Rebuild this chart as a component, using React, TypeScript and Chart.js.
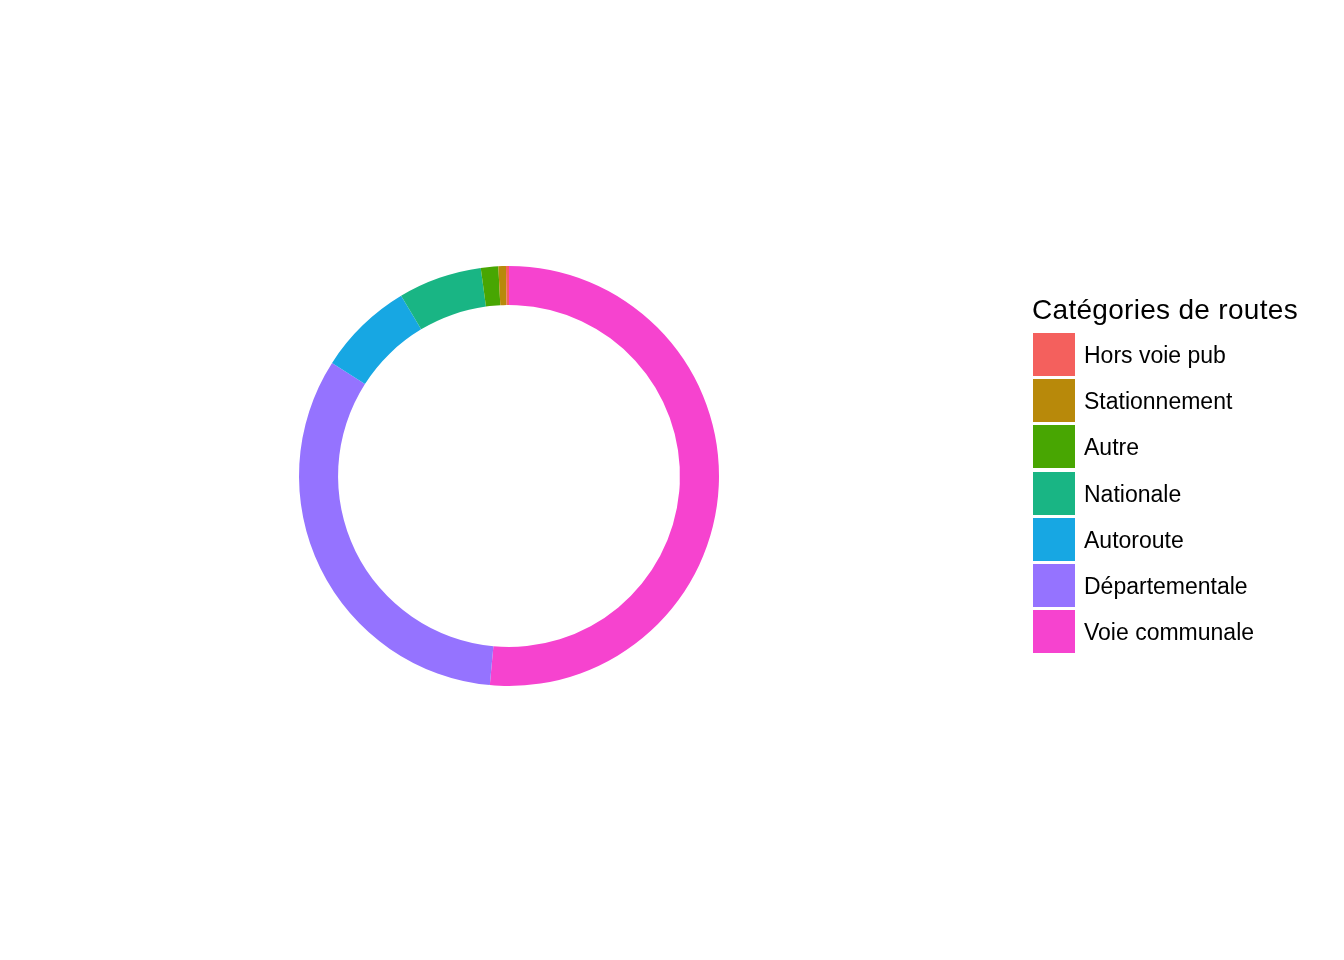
import React, { useEffect, useRef } from "react";
import { Chart, registerables } from "chart.js";

Chart.register(...registerables);

// Legend order (as shown in the reference legend)
const categories = [
  "Hors voie pub",
  "Stationnement",
  "Autre",
  "Nationale",
  "Autoroute",
  "Départementale",
  "Voie communale",
];
// Share of each category (%), same order as categories
const shares = [0.23, 0.58, 1.34, 6.44, 7.36, 32.6, 51.46];
const colors = [
  "#F4605D",
  "#B8890A",
  "#48A602",
  "#19B584",
  "#17A7E3",
  "#9573FF",
  "#F643CF",
];
const legendTitle = "Catégories de routes";

export default function App() {
  const canvasRef = useRef<HTMLCanvasElement | null>(null);

  useEffect(() => {
    if (!canvasRef.current) return;
    // Drawn clockwise from the top, starting with the last category
    const labels = [...categories].reverse();
    const data = [...shares].reverse();
    const bg = [...colors].reverse();
    const chart = new Chart(canvasRef.current, {
      type: "doughnut",
      data: {
        labels,
        datasets: [
          {
            data,
            backgroundColor: bg,
            borderWidth: 0,
          },
        ],
      },
      options: {
        responsive: false,
        animation: false,
        devicePixelRatio: 1,
        cutout: "81.4%",
        layout: { padding: { left: 299, right: 625, top: 266, bottom: 274 } },
        plugins: {
          legend: { display: false },
          tooltip: { enabled: false },
        },
      },
    });
    return () => chart.destroy();
  }, []);

  const font = "'Liberation Sans', Arial, Helvetica, sans-serif";
  return (
    <div style={{ position: "absolute", left: 0, top: 0, width: 1344, height: 960, background: "#fff" }}>
      <canvas ref={canvasRef} width={1344} height={960} style={{ position: "absolute", left: 0, top: 0 }} />
      <div
        style={{
          position: "absolute",
          left: 1032,
          top: 295.5,
          fontFamily: font,
          fontSize: 28,
          lineHeight: "28px",
          letterSpacing: "0.3px",
          color: "#000",
          whiteSpace: "nowrap",
        }}
      >
        {legendTitle}
      </div>
      {categories.map((c, i) => (
        <div
          key={c}
          style={{
            position: "absolute",
            left: 1033,
            top: 333 + i * 46.2,
            height: 43,
            display: "flex",
            alignItems: "center",
            fontFamily: font,
            fontSize: 23,
            lineHeight: "43px",
            color: "#000",
            whiteSpace: "nowrap",
          }}
        >
          <div style={{ width: 42, height: 43, background: colors[i], marginRight: 9 }} />
          <span style={{ position: "relative", top: 1 }}>{c}</span>
        </div>
      ))}
    </div>
  );
}
